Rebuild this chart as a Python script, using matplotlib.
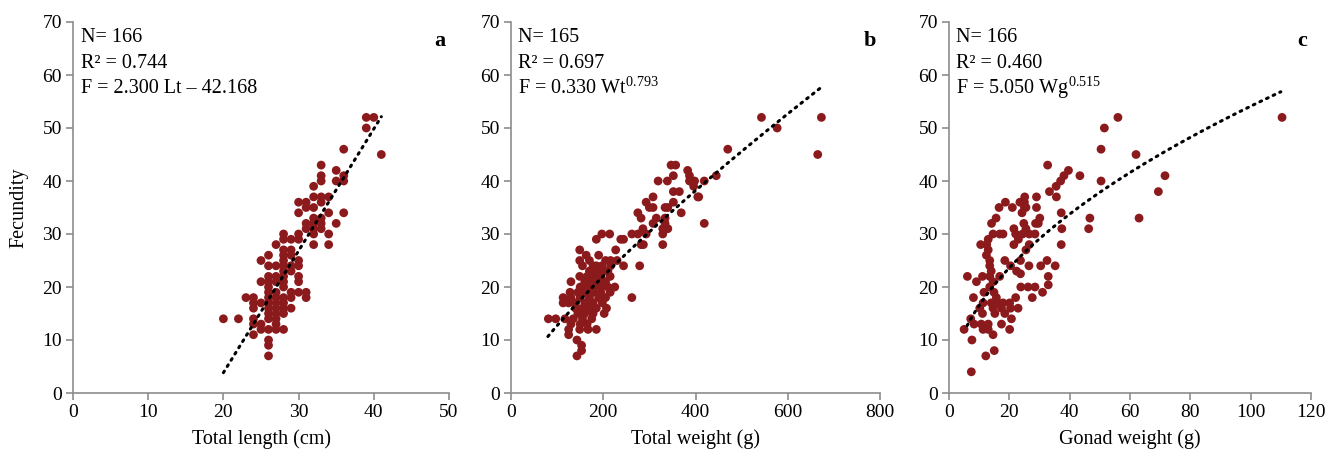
import matplotlib
matplotlib.use("Agg")
import matplotlib.pyplot as plt
import numpy as np

plt.rcParams['font.family'] = ['Liberation Serif', 'DejaVu Serif']
plt.rcParams['mathtext.fontset'] = 'custom'
plt.rcParams['mathtext.rm'] = 'Liberation Serif'

# ---------------- data ----------------
# Panel a: total length (cm) vs fecundity
length_cm = [39, 40, 39, 36, 41, 33, 35, 33, 36, 33, 35, 36, 32, 32, 33, 34, 30, 31, 33, 31, 32,
             30, 34, 36, 32, 33, 31, 32, 33, 35, 31, 32, 33, 28, 30, 32, 34, 28, 29, 30, 27, 32,
             34, 28, 29, 26, 28, 29, 25, 28, 30, 26, 27, 28, 29, 30, 28, 29, 26, 27, 28, 30, 25,
             26, 27, 28, 30, 26, 28, 26, 27, 29, 30, 31, 23, 24, 26, 27, 28, 29, 31, 24, 25, 26,
             27, 28, 24, 26, 27, 28, 29, 26, 27, 28, 20, 22, 24, 26, 27, 24, 25, 27, 25, 26, 27,
             28, 24, 26, 26, 26]
fec_a = [52, 52, 50, 46, 45, 43, 42, 41, 41, 40, 40, 40, 39, 37, 37, 37, 36, 36, 36, 35, 35,
         34, 34, 34, 33, 33, 32, 32, 32, 32, 31, 31, 31, 30, 30, 30, 30, 29, 29, 29, 28, 28,
         28, 27, 27, 26, 26, 26, 25, 25, 25, 24, 24, 24, 24, 24, 23, 23, 22, 22, 22, 22, 21,
         21, 21, 21, 21, 20, 20, 19, 19, 19, 19, 19, 18, 18, 18, 18, 18, 18, 18, 17, 17, 17,
         17, 17, 16, 16, 16, 16, 16, 15, 15, 15, 14, 14, 14, 14, 14, 13, 13, 13, 12, 12, 12,
         12, 11, 10, 9, 7]

# Panel b: total weight (g) vs fecundity
weight_g = [149, 227, 163, 190, 149, 170, 205, 216, 230, 155, 178, 185, 197, 216, 244, 279,
            170, 185, 200, 210, 149, 165, 180, 195, 215, 130, 160, 175, 190, 205, 150, 165,
            180, 195, 210, 225, 128, 145, 160, 178, 195, 215, 113, 130, 150, 170, 190, 205,
            262, 113, 125, 140, 160, 178, 198, 140, 155, 170, 185, 207, 145, 160, 178, 202,
            81, 97, 117, 135, 155, 175, 130, 150, 165, 125, 149, 167, 185, 125, 143, 153,
            153, 143,
            197, 214, 262, 275, 293, 329, 185, 238, 244, 282, 287, 329, 286, 329, 340, 308,
            334, 419, 282, 315, 334, 275, 369, 300, 308, 334, 340, 293, 352, 308, 405, 407,
            352, 365, 396, 319, 339, 387, 398, 419, 352, 387, 445, 383, 347, 357, 665, 470,
            577, 543, 673]
fec_b = [27, 27, 26, 26, 25, 25, 25, 25, 25, 24, 24, 24, 24, 24, 24, 24,
         23, 23, 23, 23, 22, 22, 22, 22, 22, 21, 21, 21, 21, 21, 20, 20,
         20, 20, 20, 20, 19, 19, 19, 19, 19, 19, 18, 18, 18, 18, 18, 18,
         18, 17, 17, 17, 17, 17, 17, 16, 16, 16, 16, 16, 15, 15, 15, 15,
         14, 14, 14, 14, 14, 14, 13, 13, 13, 12, 12, 12, 12, 11, 10, 9,
         8, 7,
         30, 30, 30, 30, 30, 30, 29, 29, 29, 28, 28, 28, 31, 31, 31, 32,
         32, 32, 33, 33, 33, 34, 34, 35, 35, 35, 35, 36, 36, 37, 37, 37,
         38, 38, 39, 40, 40, 40, 40, 40, 41, 41, 41, 42, 43, 43, 45, 46,
         50, 52, 52]

# Panel c: gonad weight (g) vs fecundity
gonad_g = [56, 51.5, 50.4, 62, 50.4, 63, 71.6, 69.4, 110.4, 46.7, 46.3,
           32.7, 39.6, 38.1, 43.4, 37, 35.5, 33.3, 35.6, 37.2, 37.4, 37.2,
           29, 29, 30.1, 29.6, 28.7, 25.1, 23.5, 25.5, 24.2, 24.8, 25.5, 18.7, 16.6, 21,
           15.6, 14.1, 21.5, 22.1, 24.4, 26.6, 28.5, 14.6, 16.8, 17.9,
           10.5, 21.5, 26.6, 13, 12.4, 25.5, 18.5, 13.5, 23.7, 20.4, 22.4, 23.7, 26.5,
           30.4, 32.5, 35.2, 6.1, 11.1, 9.1, 13.5, 14.6, 16.8, 32.9, 32.9, 23.8, 26.2,
           28.5, 31, 27.6, 8.1, 11.6, 13.5, 14.9, 15.7, 11.3, 14, 16.3, 17.9, 20.1, 22.1,
           22.9, 10.2, 14.6, 17.4, 20.4, 11.1, 15.2, 18.5, 20.7, 7.2, 8.3, 10.7, 13, 17.4,
           20.1, 11.3, 13, 14.6, 5, 7.6, 12.2, 15, 7.4,
           13, 12.5, 13.5, 14, 23, 25, 25]
fec_c = [52, 50, 46, 45, 40, 33, 41, 38, 52, 33, 31,
         43, 42, 41, 41, 40, 39, 38, 37, 34, 31, 28,
         37, 35, 33, 32, 32, 37, 36, 35, 34, 32, 31, 36, 35, 35,
         33, 32, 31, 30, 30, 30, 30, 30, 30, 30,
         28, 28, 28, 27, 26, 27, 25, 24, 25, 24, 23, 22.5, 24,
         24, 25, 24, 22, 22, 21, 22, 21, 22, 22, 20.4, 20, 20,
         20, 19, 18, 18, 19, 20, 19, 18, 17, 17, 17, 17, 17, 18,
         16, 16, 16, 16, 16, 15, 15, 15, 14, 14, 13, 13, 13, 13,
         12, 12, 12, 11, 12, 10, 7, 8, 4,
         29, 28, 25, 23, 29, 36, 35]

# Reported fits (N, R^2, equation) and trend-line x ranges
fits = [
    dict(n=166, r2=0.744, a=2.300, b=-42.168, kind='lin', xr=(20, 41)),
    dict(n=165, r2=0.697, a=0.330, b=0.793, kind='pow', xr=(80, 672)),
    dict(n=166, r2=0.460, a=5.050, b=0.515, kind='pow', xr=(6, 110)),
]
eq_texts = ['F = 2.300 Lt \u2013 42.168',
            r'F = 0.330 Wt$^{\mathrm{0.793}}$',
            r'F = 5.050 Wg$^{\mathrm{0.515}}$']
panel_letters = ['a', 'b', 'c']
xlabels = ['Total length (cm)', 'Total weight (g)', 'Gonad weight (g)']
xlims = [(0, 50), (0, 800), (0, 120)]
xticks = [np.arange(0, 51, 10), np.arange(0, 801, 200), np.arange(0, 121, 20)]

xs = [length_cm, weight_g, gonad_g]
ys = [fec_a, fec_b, fec_c]

# ---------------- figure ----------------
W, H = 1343, 459
fig = plt.figure(figsize=(W / 100, H / 100), dpi=100)
boxes = [(73, 449), (511, 880), (949, 1311)]
top, bottom = 22, 393

red = '#8b1a1d'
spine_c = '#8c8c8c'

for i in range(3):
    l, r = boxes[i]
    ax = fig.add_axes([l / W, 1 - bottom / H, (r - l) / W, (bottom - top) / H])
    ax.scatter(xs[i], ys[i], s=40, color=red, edgecolors='none', zorder=3)
    f = fits[i]
    xx = np.linspace(f['xr'][0], f['xr'][1], 200)
    if f['kind'] == 'lin':
        yy = f['a'] * xx + f['b']
    else:
        yy = f['a'] * xx ** f['b']
    ax.plot(xx, yy, color='black', lw=2.2, linestyle=(0, (0.6, 1.8)),
            dash_capstyle='round', zorder=4)

    ax.set_xlim(*xlims[i])
    ax.set_ylim(0, 70)
    ax.set_xticks(xticks[i])
    ax.set_yticks(np.arange(0, 71, 10))
    for s in ['top', 'right']:
        ax.spines[s].set_visible(False)
    for s in ['left', 'bottom']:
        ax.spines[s].set_color(spine_c)
        ax.spines[s].set_linewidth(1.2)
    ax.tick_params(direction='out', length=5, width=1.2, color=spine_c,
                   labelsize=14, pad=3)
    ax.set_xlabel(xlabels[i], fontsize=14.5, labelpad=6)
    if i == 0:
        ax.set_ylabel('Fecundity', fontsize=14.5, labelpad=10)

    ax.text(0.02, 0.957, f"N= {f['n']}", transform=ax.transAxes,
            fontsize=14.5, va='center', ha='left')
    ax.text(0.02, 0.889, f"R\u00b2 = {f['r2']:.3f}", transform=ax.transAxes,
            fontsize=14.5, va='center', ha='left')
    ax.text(0.02, 0.822, eq_texts[i], transform=ax.transAxes,
            fontsize=14.5, va='center', ha='left')
    ax.text(0.99, 0.950, panel_letters[i], transform=ax.transAxes,
            fontsize=16, fontweight='bold', va='center', ha='right')

fig.savefig('out.png', dpi=100)
